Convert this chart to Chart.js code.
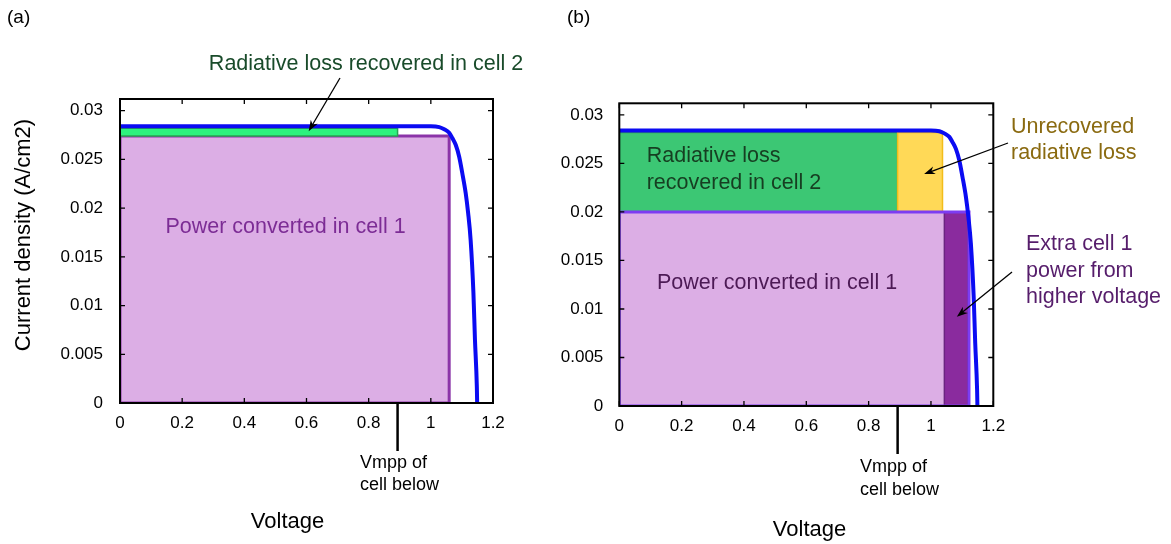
<!DOCTYPE html>
<html>
<head>
<meta charset="utf-8">
<script src="https://cdn.jsdelivr.net/npm/chart.js@4.4.1/dist/chart.umd.min.js"></script>
<style>
  body { margin: 0; background: #fff; }
  #wrap { position: relative; width: 1171px; height: 544px; }
  canvas { position: absolute; top: 0; }
  #chartA { left: 0; }
  #chartB { left: 560px; }
</style>
</head>
<body>
<div id="wrap">
  <canvas id="chartA" width="560" height="544"></canvas>
  <canvas id="chartB" width="611" height="544"></canvas>
</div>
<script>
// J-V curve of cell 1: voltage (V) and current density (A/cm2)
const voltage = [0, 0.2, 0.4, 0.6, 0.8, 1.0, 1.027, 1.043, 1.059, 1.069, 1.08, 1.091, 1.101, 1.112, 1.12, 1.128, 1.137, 1.142, 1.148, 1.149];
const current = [0.0284, 0.0284, 0.0284, 0.0284, 0.0284, 0.0284, 0.02832, 0.0281, 0.02774, 0.0272, 0.0265, 0.0253, 0.02363, 0.02158, 0.0195, 0.01675, 0.0113, 0.00647, 0.00168, 0];

const xTicks = [0, 0.2, 0.4, 0.6, 0.8, 1, 1.2];
const xTickLabels = ['0', '0.2', '0.4', '0.6', '0.8', '1', '1.2'];
const yTicks = [0, 0.005, 0.01, 0.015, 0.02, 0.025, 0.03];
const yTickLabels = ['0', '0.005', '0.01', '0.015', '0.02', '0.025', '0.03'];

// max power point voltage of the cell underneath
const vmppBelow = 0.893;

// boxes as [v0, v1, j0, j1]
const aCell1 = [0, 1.059, 0, 0.0274];
const aRecovered = [0, vmppBelow, 0.0274, 0.0282];
const bRecovered = [0, vmppBelow, 0.02, 0.0282];
const bUnrecovered = [vmppBelow, 1.037, 0.02, 0.0282];
const bCell1 = [0, 1.122, 0, 0.02];
const bExtra = [1.043, 1.119, 0, 0.02];

const FONT = "'Liberation Sans', Arial, sans-serif";

function curveSet() {
  return {
    data: voltage.map((v, i) => ({ x: v, y: current[i] })),
    showLine: true, borderColor: '#0b0bf2', borderWidth: 4,
    pointRadius: 0, cubicInterpolationMode: 'monotone', fill: false
  };
}

function boxFill(r, color) {
  return {
    data: [{ x: r[0], y: r[3] }, { x: r[1], y: r[3] }],
    showLine: true, fill: { value: r[2] }, backgroundColor: color,
    borderWidth: 0, pointRadius: 0
  };
}

function boxEdge(r, color, w) {
  return {
    data: [{ x: r[0], y: r[2] }, { x: r[0], y: r[3] }, { x: r[1], y: r[3] }, { x: r[1], y: r[2] }, { x: r[0], y: r[2] }],
    showLine: true, fill: false, borderColor: color, borderWidth: w,
    borderCapStyle: 'square', pointRadius: 0
  };
}

// inward ticks on all four sides plus the box
const framePlugin = {
  id: 'frame',
  afterDatasetsDraw(chart) {
    const { ctx, chartArea: a, scales: { x, y } } = chart;
    ctx.save();
    ctx.strokeStyle = '#000';
    ctx.lineWidth = 1.3;
    ctx.beginPath();
    x.ticks.forEach(t => {
      const px = x.getPixelForValue(t.value);
      ctx.moveTo(px, a.bottom); ctx.lineTo(px, a.bottom - 5);
      ctx.moveTo(px, a.top); ctx.lineTo(px, a.top + 5);
    });
    y.ticks.forEach(t => {
      const py = y.getPixelForValue(t.value);
      ctx.moveTo(a.left, py); ctx.lineTo(a.left + 5, py);
      ctx.moveTo(a.right, py); ctx.lineTo(a.right - 5, py);
    });
    ctx.stroke();
    ctx.lineWidth = 2;
    ctx.strokeRect(a.left, a.top, a.right - a.left, a.bottom - a.top);
    ctx.restore();
  }
};

function arrow(ctx, x0, y0, x1, y1) {
  const ang = Math.atan2(y1 - y0, x1 - x0);
  const L = 11, W = 4;
  ctx.beginPath();
  ctx.moveTo(x0, y0);
  ctx.lineTo(x1 - Math.cos(ang) * L * 0.6, y1 - Math.sin(ang) * L * 0.6);
  ctx.stroke();
  ctx.save();
  ctx.translate(x1, y1);
  ctx.rotate(ang);
  ctx.beginPath();
  ctx.moveTo(0, 0); ctx.lineTo(-L, -W); ctx.lineTo(-L * 0.7, 0); ctx.lineTo(-L, W);
  ctx.closePath();
  ctx.fill();
  ctx.restore();
}

// labels, arrows and the Vmpp marker
const notesPlugin = {
  id: 'notes',
  afterDraw(chart, args, opts) {
    const { ctx, chartArea: a, scales: { x, y } } = chart;
    ctx.save();
    ctx.strokeStyle = '#000';
    ctx.fillStyle = '#000';
    (opts.markers || []).forEach(m => {
      const px = x.getPixelForValue(m.v);
      ctx.lineWidth = 2.5;
      ctx.beginPath(); ctx.moveTo(px, a.bottom); ctx.lineTo(px, a.bottom + m.len); ctx.stroke();
    });
    ctx.lineWidth = 1.3;
    (opts.arrows || []).forEach(r => {
      arrow(ctx, r.from[0], r.from[1], x.getPixelForValue(r.v), y.getPixelForValue(r.j));
    });
    (opts.texts || []).forEach(t => {
      ctx.save();
      ctx.font = (t.size || 21.5) + 'px ' + FONT;
      ctx.fillStyle = t.color || '#000';
      ctx.textAlign = t.align || 'left';
      ctx.textBaseline = 'alphabetic';
      ctx.translate(t.x, t.y);
      if (t.rot) ctx.rotate(-Math.PI / 2);
      ctx.fillText(t.t, 0, 0);
      ctx.restore();
    });
    ctx.restore();
  }
};

function scales(yWidth, xHeight, yPad) {
  const tickFont = { family: FONT, size: 17 };
  return {
    x: {
      type: 'linear', min: 0, max: 1.2,
      afterBuildTicks: s => { s.ticks = xTicks.map(v => ({ value: v })); },
      afterFit: s => { s.height = xHeight; },
      grid: { display: false }, border: { display: false },
      ticks: { callback: (v, i) => xTickLabels[i], font: tickFont, color: '#000', padding: 2, maxRotation: 0, autoSkip: false }
    },
    y: {
      type: 'linear', min: 0, max: 0.0312,
      afterBuildTicks: s => { s.ticks = yTicks.map(v => ({ value: v })); },
      afterFit: s => { s.width = yWidth; },
      grid: { display: false }, border: { display: false },
      ticks: { callback: (v, i) => yTickLabels[i], font: tickFont, color: '#000', padding: yPad, autoSkip: false }
    }
  };
}

function baseOptions(pad, yWidth, xHeight, yPad, notes) {
  return {
    responsive: false, animation: false,
    layout: { padding: pad },
    scales: scales(yWidth, xHeight, yPad),
    plugins: { legend: { display: false }, tooltip: { enabled: false }, notes: notes }
  };
}

new Chart(document.getElementById('chartA'), {
  type: 'scatter',
  data: {
    datasets: [
      curveSet(),
      boxEdge(aRecovered, '#27a452', 1.5),
      boxFill(aRecovered, '#2df27e'),
      boxEdge(aCell1, '#8b34a8', 3),
      boxFill(aCell1, '#dcaee5')
    ]
  },
  options: baseOptions({ left: 0, right: 67, top: 99, bottom: 0 }, 120, 141, 9, {
    markers: [{ v: vmppBelow, len: 48 }],
    arrows: [{ from: [340, 78], v: 0.607, j: 0.0279 }],
    texts: [
      { t: '(a)', x: 7, y: 23, size: 19 },
      { t: 'Current density (A/cm2)', x: 30, y: 235, size: 22, rot: true, align: 'center' },
      { t: 'Voltage', x: 287.5, y: 528, size: 22, align: 'center' },
      { t: 'Radiative loss recovered in cell 2', x: 366, y: 70, color: '#194b2a', align: 'center' },
      { t: 'Power converted in cell 1', x: 285.5, y: 233, color: '#7c2c95', align: 'center' },
      { t: 'Vmpp of', x: 360, y: 468, size: 18 },
      { t: 'cell below', x: 360, y: 490, size: 18 }
    ]
  }),
  plugins: [framePlugin, notesPlugin]
});

new Chart(document.getElementById('chartB'), {
  type: 'scatter',
  data: {
    datasets: [
      curveSet(),
      boxEdge(bCell1, '#7d3cf2', 3),
      boxEdge(bExtra, '#6b2480', 1.5),
      boxFill(bExtra, '#8a2b9e'),
      boxFill(bCell1, '#dcaee5'),
      boxEdge(bUnrecovered, '#f2bd1a', 1.5),
      boxFill(bUnrecovered, '#ffd957'),
      boxEdge(bRecovered, '#2f9e58', 1.5),
      boxFill(bRecovered, '#3cc774')
    ]
  },
  options: baseOptions({ left: 0, right: 177.7, top: 103.3, bottom: 0 }, 59.3, 138, 8, {
    markers: [{ v: vmppBelow, len: 48 }],
    arrows: [
      { from: [448, 143], v: 0.978, j: 0.0239 },
      { from: [452, 272], v: 1.083, j: 0.0092 }
    ],
    texts: [
      { t: '(b)', x: 7, y: 23, size: 19 },
      { t: 'Voltage', x: 249.5, y: 536, size: 22, align: 'center' },
      { t: 'Radiative loss', x: 86.7, y: 161.7, color: '#163e21' },
      { t: 'recovered in cell 2', x: 86.7, y: 188.7, color: '#163e21' },
      { t: 'Power converted in cell 1', x: 217, y: 289, color: '#4c1a55', align: 'center' },
      { t: 'Unrecovered', x: 451, y: 132.7, color: '#8a6a10' },
      { t: 'radiative loss', x: 451, y: 159.3, color: '#8a6a10' },
      { t: 'Extra cell 1', x: 466, y: 250, color: '#561d6b' },
      { t: 'power from', x: 466, y: 276.7, color: '#561d6b' },
      { t: 'higher voltage', x: 466, y: 303, color: '#561d6b' },
      { t: 'Vmpp of', x: 300, y: 471.7, size: 18 },
      { t: 'cell below', x: 300, y: 495, size: 18 }
    ]
  }),
  plugins: [framePlugin, notesPlugin]
});
</script>
</body>
</html>
